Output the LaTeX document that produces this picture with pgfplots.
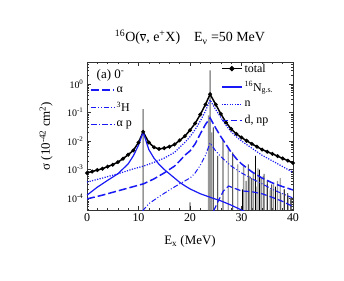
\documentclass[border=0pt]{standalone}
\usepackage{fontspec}
\setmainfont{Liberation Serif}
\usepackage{pgfplots}
\usepackage{pgfplotstable}
\pgfplotsset{compat=1.18}
\definecolor{cblue}{RGB}{25,25,245}
\definecolor{cgray}{RGB}{150,150,150}

\tikzset{
  stTotal/.style={black, line width=1.5pt},
  stNgs/.style={cblue, line width=1.2pt, solid},
  stNeut/.style={cblue, line width=1.2pt, dash pattern=on 1.2pt off 1.4pt},
  stDnp/.style={cblue, line width=1.2pt, dash pattern=on 6pt off 3pt},
  stAlph/.style={cblue, line width=1.5pt, dash pattern=on 8pt off 3pt},
  stTrit/.style={cblue, line width=1pt, dash pattern=on 5pt off 2pt on 1pt off 2pt on 1pt off 2pt},
  stAp/.style={cblue, line width=1.1pt, dash pattern=on 6pt off 2pt on 1.5pt off 2pt},
}
\pgfplotsset{
  legTotal/.style={legend image code/.code={\draw[stTotal] (0bp,0bp) -- (20bp,0bp); \fill[black] (10bp,0bp) circle (1.8bp);}},
  legNgs/.style={legend image code/.code={\draw[stNgs] (0bp,0bp) -- (20bp,0bp);}},
  legNeut/.style={legend image code/.code={\draw[stNeut] (0bp,0bp) -- (20bp,0bp);}},
  legDnp/.style={legend image code/.code={\draw[stDnp] (0bp,0bp) -- (20bp,0bp);}},
  legAlph/.style={legend image code/.code={\draw[stAlph] (0bp,0bp) -- (23bp,0bp);}},
  legTrit/.style={legend image code/.code={\draw[stTrit] (0bp,0bp) -- (23bp,0bp);}},
  legAp/.style={legend image code/.code={\draw[stAp] (0bp,0bp) -- (23bp,0bp);}},
}

\pgfplotstableread{
E v
0 7.59e-4
1 8.51e-4
2 9.55e-4
3 1.07e-3
4 1.26e-3
5 1.48e-3
6 1.82e-3
7 2.4e-3
8 3.31e-3
9 4.68e-3
10 8.91e-3
10.9 0.0209
12 8.91e-3
13 6.03e-3
14 5.25e-3
15 5.62e-3
16 6.31e-3
17 7.59e-3
18 0.0105
19 0.0148
20 0.024
21 0.0417
22 0.0851
23 0.191
23.9 0.437
25 0.191
26 0.0891
27 0.0447
28 0.0263
29 0.0178
30 0.0132
31 0.0102
32 7.94e-3
33 6.31e-3
34 5.01e-3
35 4.17e-3
36 3.55e-3
37 2.95e-3
38 2.45e-3
39 2.04e-3
40 1.7e-3
}\tabTotal

\pgfplotstableread{
E v
0 1.26e-4
2 2.4e-4
4 4.17e-4
6 7.08e-4
8 1.58e-3
9 3.02e-3
10 7.08e-3
10.9 0.0209
12 5.01e-3
13 2.51e-3
14 1.51e-3
15 1e-3
16 7.08e-4
17 5.01e-4
18 3.55e-4
19 2.69e-4
20 2.09e-4
22 1.41e-4
24 1.05e-4
26 7.94e-5
28 5.62e-5
30 3.8e-5
31 3.16e-5
}\tabNgs

\pgfplotstableread{
E v
0 3.63e-4
3 5.01e-4
6 7.08e-4
9 1.05e-3
11 1.32e-3
13 1.78e-3
15 2.51e-3
17 3.98e-3
18 6.03e-3
19 8.91e-3
20 0.0141
21 0.0251
22 0.0501
23 0.112
23.9 0.275
25 0.126
26 0.0661
27 0.0355
28 0.0209
29 0.0141
30 0.01
32 5.62e-3
34 3.16e-3
36 2e-3
38 1.26e-3
40 7.94e-4
}\tabNeut

\pgfplotstableread{
E v
24.6 3.55e-5
25.5 7.94e-5
26.5 1.78e-4
27.5 2.63e-4
28.5 2.24e-4
30 1.78e-4
32 1.66e-4
34 1.41e-4
36 1.05e-4
38 7.59e-5
40 5.01e-5
}\tabDnp

\pgfplotstableread{
E v
0 9.33e-5
3 1.26e-4
6 1.78e-4
9 2.51e-4
11 3.16e-4
13 4.68e-4
15 7.59e-4
17 1.32e-3
18 2e-3
19 3.16e-3
20 4.47e-3
21 7.94e-3
22 0.0178
23 0.038
23.9 0.0646
25 0.0282
26 0.0141
27 7.59e-3
28 3.98e-3
29 2.4e-3
30 1.58e-3
32 8.32e-4
34 5.01e-4
36 3.39e-4
38 2.51e-4
40 1.91e-4
}\tabAlph

\pgfplotstableread{
E v
10.8 3.55e-5
12 6.31e-5
14 1.12e-4
16 1.91e-4
18 3.16e-4
20 5.01e-4
21 7.59e-4
22 1.41e-3
23 3.16e-3
23.9 8.51e-3
25 4.47e-3
26 2.82e-3
27 1.91e-3
28 1.32e-3
30 7.59e-4
32 4.79e-4
34 3.16e-4
36 2e-4
38 1.41e-4
40 1e-4
}\tabTrit

\pgfplotstableread{
E v
10.9 0.13
23.6 0.08
23.9 3.0
24.2 0.02
30.4 1.4e-3
30.9 4e-4
31.6 6e-4
32.3 8e-4
32.8 2.5e-4
33.2 1.1e-3
33.8 5e-4
34.4 7e-4
35.0 3e-4
35.6 2e-4
36.2 3e-4
37.0 4e-4
37.6 1.5e-4
38.3 2e-4
39.0 1.2e-4
39.6 1e-4
}\tabGray

\pgfplotstableread{
E v
20.0 7e-5
24.5 0.03
25.4 0.003
26.4 0.011
27.4 0.006
28.3 0.004
29.3 0.0015
30.2 2e-4
31.3 0.0015
32.0 5e-4
32.7 0.003
33.5 1e-3
34.2 6e-4
35.0 4e-4
35.8 3e-4
36.6 2.5e-4
37.5 5e-4
38.3 2e-4
39.0 1.5e-4
39.6 1e-4
}\tabBlack

\begin{document}
\begin{tikzpicture}[x=1bp,y=1bp]
\begin{axis}[at={(0,0)}, anchor=south west, scale only axis,
  width=206bp, height=148bp,
  xmin=0, xmax=40, ymode=log, ymin=3.8e-5, ymax=5.9,
  log origin=infty,
  xtick={0,10,20,30,40}, minor x tick num=4,
  ytick={1e-4,1e-3,1e-2,1e-1,1},
  yticklabels={10\textsuperscript{-4},10\textsuperscript{-3},10\textsuperscript{-2},10\textsuperscript{-1},10\textsuperscript{0}},
  minor ytick={4e-5,5e-5,6e-5,7e-5,8e-5,9e-5,2e-4,3e-4,4e-4,5e-4,6e-4,7e-4,8e-4,9e-4,2e-3,3e-3,4e-3,5e-3,6e-3,7e-3,8e-3,9e-3,2e-2,3e-2,4e-2,5e-2,6e-2,7e-2,8e-2,9e-2,0.2,0.3,0.4,0.5,0.6,0.7,0.8,0.9,2,3,4,5},
  tick align=inside, xtick pos=both, ytick pos=both,
  major tick length=4bp, minor tick length=2bp,
  every tick/.style={black!80, line width=0.4pt},
  axis line style={black!80, line width=0.5pt},
  /pgf/number format/assume math mode=true,
  xticklabel style={font=\fontsize{12}{14}\selectfont},
  yticklabel style={font=\fontsize{10}{12}\selectfont},
  xlabel={E\textsubscript{x} (MeV)},
  xlabel style={font=\fontsize{13}{15}\selectfont, at={(axis description cs:0.5,-0.236)}, anchor=base},
  ylabel={σ (10\textsuperscript{-42} cm\textsuperscript{2})},
  ylabel style={font=\fontsize{13}{15}\selectfont, at={(axis description cs:-0.18,0.5)}, anchor=base},
  title={\textsuperscript{16}O(\ensuremath{\overline{\mbox{ν}}}, e\textsuperscript{+}X)\quad E\textsubscript{ν} =50 MeV},
  title style={font=\fontsize{14}{16}\selectfont, at={(axis description cs:0.5,1.095)}, anchor=base},
  legend style={at={(axis description cs:0.645,1.01)}, anchor=north west, draw=none, fill=none,
    font=\fontsize{12}{14}\selectfont, row sep=4bp, inner sep=1bp,
    /tikz/every even column/.append style={column sep=4bp}},
  legend cell align=left,
]
\addplot[ybar, bar shift=0pt, bar width=1.4bp, fill=cgray, draw=none, forget plot] table[x=E,y=v] {\tabGray};
\addplot[ybar, bar shift=0pt, bar width=0.7bp, fill=black, draw=none, forget plot] table[x=E,y=v] {\tabBlack};
\addplot[stTotal, mark=*, mark size=1.1pt, legTotal] table[x=E,y=v] {\tabTotal};
\addlegendentry{total}
\addplot[stNgs, legNgs] table[x=E,y=v] {\tabNgs};
\addlegendentry{\textsuperscript{16}N\textsubscript{g.s.}}
\addplot[stNeut, legNeut] table[x=E,y=v] {\tabNeut};
\addlegendentry{n}
\addplot[stDnp, legDnp] table[x=E,y=v] {\tabDnp};
\addlegendentry{d, np}
\node[anchor=base west, font=\fontsize{13}{15}\selectfont] at (axis description cs:0.03,0.89) {(a) 0\textsuperscript{-}};
\end{axis}
\begin{axis}[at={(0,0)}, anchor=south west, scale only axis,
  width=206bp, height=148bp,
  xmin=0, xmax=40, ymode=log, ymin=3.8e-5, ymax=5.9,
  hide axis,
  legend style={at={(axis description cs:0.01,0.855)}, anchor=north west, draw=none, fill=none,
    font=\fontsize{12}{14}\selectfont, row sep=4bp, inner sep=1bp,
    /tikz/every even column/.append style={column sep=4bp}},
  legend cell align=left,
]
\addplot[stAlph, legAlph] table[x=E,y=v] {\tabAlph};
\addlegendentry{α}
\addplot[stTrit, legTrit] table[x=E,y=v] {\tabTrit};
\addlegendentry{\textsuperscript{3}H}
\addlegendimage{stAp, legAp}
\addlegendentry{α p}
\end{axis}
\path (-87bp,-71bp) rectangle (257bp,210bp);
\end{tikzpicture}
\end{document}
